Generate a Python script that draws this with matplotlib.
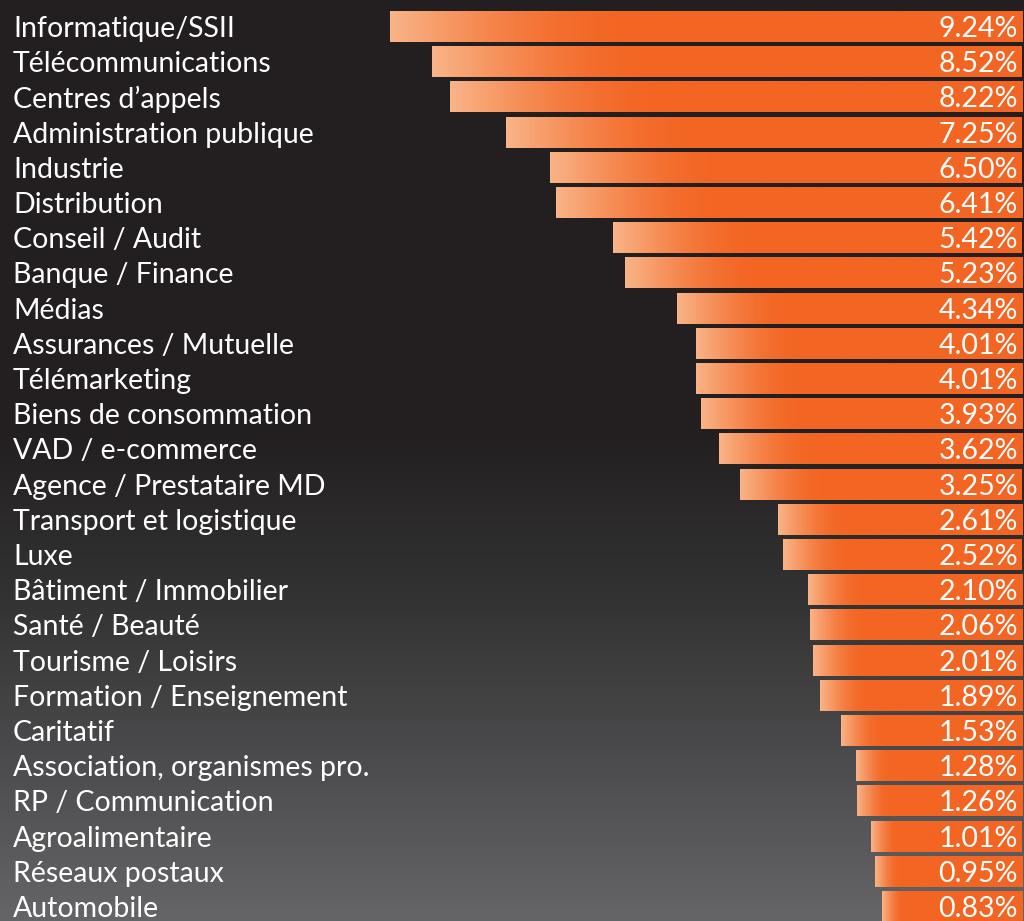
import numpy as np
import matplotlib
matplotlib.use("Agg")
import matplotlib.pyplot as plt
from matplotlib.colors import to_rgb

categories = [
    "Informatique/SSII", "Télécommunications", "Centres d’appels",
    "Administration publique", "Industrie", "Distribution",
    "Conseil / Audit", "Banque / Finance", "Médias",
    "Assurances / Mutuelle", "Télémarketing", "Biens de consommation",
    "VAD / e-commerce", "Agence / Prestataire MD", "Transport et logistique",
    "Luxe", "Bâtiment / Immobilier", "Santé / Beauté", "Tourisme / Loisirs",
    "Formation / Enseignement", "Caritatif", "Association, organismes pro.",
    "RP / Communication", "Agroalimentaire", "Réseaux postaux", "Automobile",
]
values = [9.24, 8.52, 8.22, 7.25, 6.50, 6.41, 5.42, 5.23, 4.34, 4.01, 4.01,
          3.93, 3.62, 3.25, 2.61, 2.52, 2.10, 2.06, 2.01, 1.89, 1.53, 1.28,
          1.26, 1.01, 0.95, 0.83]
value_labels = [f"{v:.2f}%" for v in values]

W, H = 1024, 921
fig = plt.figure(figsize=(W / 100, H / 100), dpi=100)

# background vertical gradient
bg = fig.add_axes([0, 0, 1, 1])
bg.set_axis_off()
stops_y = np.array([0, 430, 600, 750, 921]) / H
stops_c = np.array([to_rgb("#231f20"), to_rgb("#231f20"), to_rgb("#333333"),
                    to_rgb("#4a4a4c"), to_rgb("#656567")])
yy = np.linspace(0, 1, 400)
grad = np.stack([np.interp(yy, stops_y, stops_c[:, k]) for k in range(3)], axis=-1)
bg.imshow(grad[:, None, :], aspect="auto", extent=[0, 1, 1, 0])
bg.set_xlim(0, 1)
bg.set_ylim(1, 0)

ax = fig.add_axes([0, 0, 1, 1])
ax.set_axis_off()
ax.patch.set_alpha(0)

px_per_unit = 58.5
zero_px = 930.5
right_px = 1022
offset = (right_px - zero_px) / px_per_unit
row_px = 35.2
first_center = 26.5

light = np.array(to_rgb("#f9b488"))
orange = np.array(to_rgb("#f36522"))
bar_h = 31 / row_px
ypos = np.arange(len(values))
bars = ax.barh(ypos, [v + offset for v in values], left=-offset,
               height=bar_h, color="#f36522", zorder=2)
for i, (v, b) in enumerate(zip(values, bars)):
    xs = np.linspace(v, -offset, 400)
    t = np.clip((v - xs) / (0.46 * v), 0, 1)
    t = np.sin(t * np.pi / 2)  # ease out for a smooth join
    cols = light[None, :] * (1 - t[:, None]) + orange[None, :] * t[:, None]
    im = ax.imshow(cols[None, :, :], aspect="auto",
                   extent=[v, -offset, i + bar_h / 2, i - bar_h / 2],
                   zorder=3, interpolation="bilinear")
    im.set_clip_path(b)

font = "Lato"
fs = 20.5
lab_x = zero_px / px_per_unit - 13 / px_per_unit
val_x = -offset + 4 / px_per_unit
dy = 2.5 / row_px
for i, (c, lab) in enumerate(zip(categories, value_labels)):
    ax.text(lab_x, i + dy, c, color="white", fontsize=fs, family=font,
            fontweight="normal", ha="left", va="center", zorder=4)
    ax.text(val_x, i + dy, lab, color="white", fontsize=fs, family=font,
            fontweight="normal", ha="right", va="center", zorder=4)

ax.set_xlim(zero_px / px_per_unit, -(W - zero_px) / px_per_unit)
ax.set_ylim((H - first_center) / row_px, -first_center / row_px)
fig.savefig("out.png", dpi=100)
